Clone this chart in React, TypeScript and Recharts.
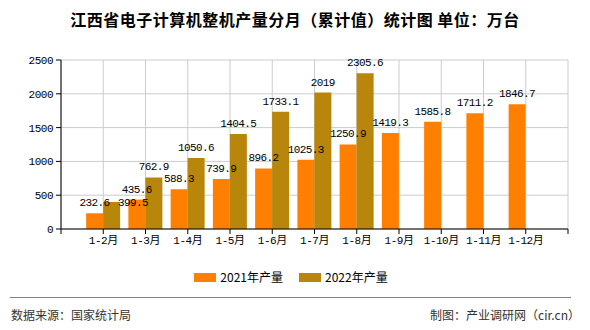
import React from 'react';
import { BarChart, Bar, XAxis, YAxis, CartesianGrid, LabelList, Legend } from 'recharts';

const months = ['1-2月', '1-3月', '1-4月', '1-5月', '1-6月', '1-7月', '1-8月', '1-9月', '1-10月', '1-11月', '1-12月'];
const prod2021 = [232.6, 435.6, 588.3, 739.9, 896.2, 1025.3, 1250.9, 1419.3, 1585.8, 1711.2, 1846.7];
const prod2022: (number | null)[] = [399.5, 762.9, 1050.6, 1404.5, 1733.1, 2019, 2305.6, null, null, null, null];
const yTicks = [0, 500, 1000, 1500, 2000, 2500];

const data = months.map((m, i) => ({ idx: i + 1, name: m, y2021: prod2021[i], y2022: prod2022[i] }));
const xTicks = Array.from({ length: months.length + 2 }, (_, i) => i);

const MONO = "'Liberation Mono', 'Noto Sans CJK SC', monospace";
const SANS = "'Noto Sans CJK SC', 'Noto Sans', sans-serif";

const makeLabel = (series: string) => (props: any) => {
  const { x, y, width, value, index } = props;
  if (value === null || value === undefined) return null;
  let cx = Number(x) + Number(width) / 2;
  let ty = Number(y) - 7;
  // overlap avoidance as in the reference: first 2022 label pushed aside
  if (series === '2022' && index === 0) {
    cx += 21.5;
    ty = Number(y) + 4.5;
  }
  return (
    <text x={cx} y={ty} textAnchor="middle" fontFamily={MONO} fontSize={11} letterSpacing={-0.6} fill="#000">
      {value}
    </text>
  );
};

const renderLegend = (props: any) => {
  const { payload } = props;
  return (
    <div style={{ display: 'flex', justifyContent: 'center', alignItems: 'center', marginLeft: -8 }}>
      {payload.map((p: any, i: number) => (
        <div key={i} style={{ display: 'flex', alignItems: 'center', marginRight: i === 0 ? 16 : 0 }}>
          <div style={{ width: 22, height: 9, background: p.color, marginRight: 4 }} />
          <span style={{ fontFamily: SANS, fontSize: 12, color: '#000', lineHeight: '14px' }}>{p.value}</span>
        </div>
      ))}
    </div>
  );
};

export default function App() {
  return (
    <div style={{ position: 'absolute', left: 0, top: 0, width: 590, height: 330, background: '#fff', overflow: 'hidden' }}>
      <BarChart
        width={590}
        height={330}
        data={data}
        margin={{ top: 46, right: 22, bottom: 71, left: 0 }}
        barGap={0}
      >
        <CartesianGrid stroke="#cccccc" strokeWidth={1} />
        <XAxis
          type="number"
          dataKey="idx"
          domain={[0, months.length + 1]}
          ticks={xTicks}
          interval={0}
          height={30}
          tickSize={5}
          tickMargin={2}
          axisLine={{ stroke: '#000' }}
          tickLine={{ stroke: '#000' }}
          tickFormatter={(v: number) => months[v - 1] ?? ''}
          tick={{ fontFamily: MONO, fontSize: 11, fill: '#000', letterSpacing: -0.5 }}
        />
        <YAxis
          width={61}
          domain={[0, 2500]}
          ticks={yTicks}
          interval={0}
          tickSize={5}
          tickMargin={3}
          axisLine={{ stroke: '#000' }}
          tickLine={{ stroke: '#000' }}
          tick={{ fontFamily: MONO, fontSize: 11, fill: '#000', letterSpacing: -0.5 }}
        />
        <Legend
          verticalAlign="top"
          content={renderLegend}
          wrapperStyle={{ position: 'absolute', top: 270, left: 0, width: 590 }}
        />
        <Bar dataKey="y2021" name="2021年产量" fill="#FF8000" barSize={17} isAnimationActive={false}>
          <LabelList dataKey="y2021" content={makeLabel('2021')} />
        </Bar>
        <Bar dataKey="y2022" name="2022年产量" fill="#B8860B" barSize={17} isAnimationActive={false}>
          <LabelList dataKey="y2022" content={makeLabel('2022')} />
        </Bar>
      </BarChart>
      <div
        style={{
          position: 'absolute', top: 8, left: 0, width: 590, textAlign: 'center',
          fontFamily: SANS, fontSize: 16, fontWeight: 'bold', letterSpacing: 0.5, color: '#000', lineHeight: '22px',
        }}
      >
        江西省电子计算机整机产量分月（累计值）统计图 单位：万台
      </div>
      <div style={{ position: 'absolute', top: 297, left: 10, width: 561, height: 1, background: '#808080' }} />
      <div style={{ position: 'absolute', top: 307, left: 11, fontFamily: SANS, fontSize: 12, color: '#333', lineHeight: '16px' }}>
        数据来源：国家统计局
      </div>
      <div style={{ position: 'absolute', top: 307, right: 10, fontFamily: SANS, fontSize: 12, color: '#333', lineHeight: '16px' }}>
        制图：产业调研网（cir.cn）
      </div>
    </div>
  );
}
